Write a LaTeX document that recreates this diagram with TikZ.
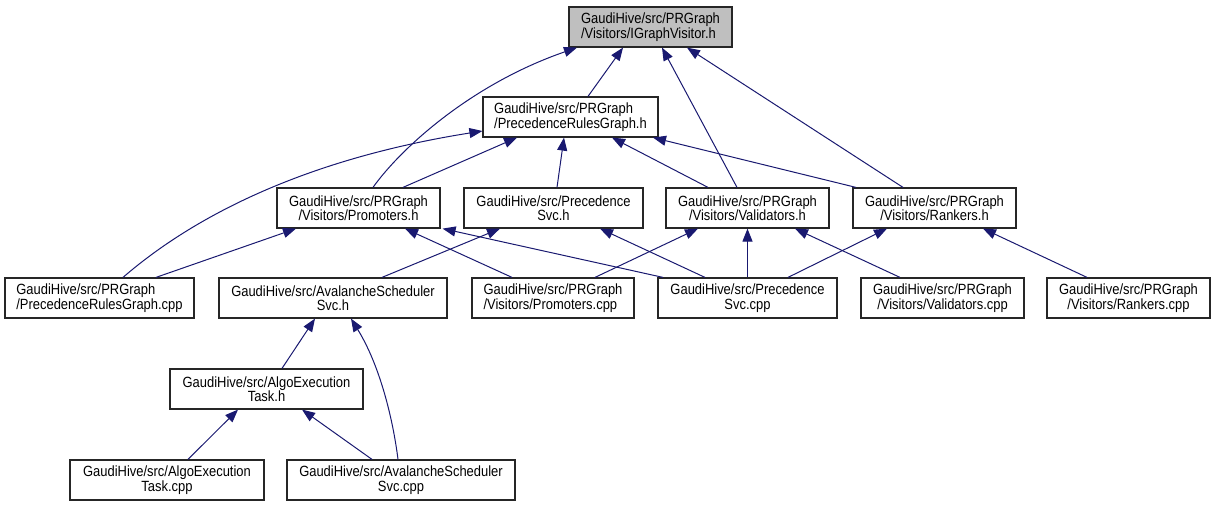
\documentclass[tikz,border=0pt]{standalone}
\usepackage{fontspec}
\setmainfont{Liberation Sans}[FakeStretch=0.875]
\usepackage{xcolor}
\usepackage{tikz}
\usetikzlibrary{positioning,calc,arrows.meta}

\definecolor{incblue}{RGB}{25,25,112}
\definecolor{curgray}{RGB}{191,191,191}

\begin{document}
\begin{tikzpicture}[x=0.5pt,y=-0.5pt,
    filebox/.style={draw=black!85, line width=0.6pt, inner sep=0pt, minimum height=20pt,
        minimum width=#1, font=\fontsize{7.4}{7.2}\selectfont},
    incl/.style={draw=incblue, line width=0.5pt, -{Triangle[length=6.5pt,width=5pt]}}]
    \useasboundingbox (0,0) rectangle (1216,507);

    % Header itself
    \node[filebox=81.5pt, fill=curgray, align=left] (igv) at (650.5,27) {GaudiHive/src/PRGraph\\/Visitors/IGraphVisitor.h};
    \node[filebox=87.5pt, align=left] (prg) at (570.5,117) {GaudiHive/src/PRGraph\\/PrecedenceRulesGraph.h};

    % Headers that include it
    \node[filebox=81.5pt, align=center] (prom) at (358.5,208) {GaudiHive/src/PRGraph\\/Visitors/Promoters.h};
    \node[filebox=89.5pt, align=center] (psvc) at (553.5,208) {GaudiHive/src/Precedence\\Svc.h};
    \node[filebox=81.5pt, align=center] (vali) at (747.5,208) {GaudiHive/src/PRGraph\\/Visitors/Validators.h};
    \node[filebox=81.5pt, align=center] (rank) at (934.5,208) {GaudiHive/src/PRGraph\\/Visitors/Rankers.h};

    % Sources
    \node[filebox=94.5pt, align=left] (prgcpp) at (99.5,298) {GaudiHive/src/PRGraph\\/PrecedenceRulesGraph.cpp};
    \node[filebox=114pt, align=center] (avalh) at (333,298) {GaudiHive/src/AvalancheScheduler\\Svc.h};
    \node[filebox=81pt, align=left] (promcpp) at (553,298) {GaudiHive/src/PRGraph\\/Visitors/Promoters.cpp};
    \node[filebox=89.5pt, align=center] (psvccpp) at (747.5,298) {GaudiHive/src/Precedence\\Svc.cpp};
    \node[filebox=81.5pt, align=center] (valicpp) at (942.5,298) {GaudiHive/src/PRGraph\\/Visitors/Validators.cpp};
    \node[filebox=81.5pt, align=center] (rankcpp) at (1128.5,298) {GaudiHive/src/PRGraph\\/Visitors/Rankers.cpp};

    \node[filebox=96.5pt, align=center] (algoh) at (266.5,389) {GaudiHive/src/AlgoExecution\\Task.h};
    \node[filebox=97pt, align=center] (algocpp) at (167,480) {GaudiHive/src/AlgoExecution\\Task.cpp};
    \node[filebox=114pt, align=center] (avalcpp) at (401,480) {GaudiHive/src/AvalancheScheduler\\Svc.cpp};

    % Include edges into IGraphVisitor.h
    \draw[incl] ($(prg.north)+(17.5,0)$) -- ($(igv.south)+(-27.5,0)$);
    \draw[incl] ($(prom.north)+(14.5,0)$) .. controls +(27,-38) and +(-107,37) .. ($(igv.south)+(-73.5,0)$);
    \draw[incl] ($(vali.north)+(-10.5,0)$) -- ($(igv.south)+(11.5,0)$);
    \draw[incl] ($(rank.north)+(-31.5,0)$) -- ($(igv.south)+(36.5,0)$);

    % Into PrecedenceRulesGraph.h
    \draw[incl] ($(prgcpp.north)+(23.5,0)$) .. controls +(67,-58) and +(-183,29) .. ($(prg.west)+(0,14)$);
    \draw[incl] ($(prom.north)+(44.5,0)$) -- ($(prg.south)+(-53.5,0)$);
    \draw[incl] ($(psvc.north)+(3.5,0)$) -- ($(prg.south)+(-6.5,0)$);
    \draw[incl] ($(vali.north)+(-39.5,0)$) -- ($(prg.south)+(41.5,0)$);
    \draw[incl] ($(rank.north)+(-78.5,0)$) -- ($(prg.south)+(82.5,0)$);

    % Into the visitor headers
    \draw[incl] ($(prgcpp.north)+(56.5,0)$) -- ($(prom.south)+(-62.5,0)$);
    \draw[incl] ($(promcpp.north)+(-41,0)$) -- ($(prom.south)+(46.5,0)$);
    \draw[incl] ($(psvccpp.north)+(-84.5,0)$) -- ($(prom.south east)+(2,0)$);
    \draw[incl] ($(avalh.north)+(49,0)$) -- ($(psvc.south)+(-53.5,0)$);
    \draw[incl] ($(psvccpp.north)+(-42.5,0)$) -- ($(psvc.south)+(46.5,0)$);
    \draw[incl] ($(promcpp.north)+(42,0)$) -- ($(vali.south)+(-49.5,0)$);
    \draw[incl] (psvccpp.north) -- (vali.south);
    \draw[incl] ($(valicpp.north)+(-42.5,0)$) -- ($(vali.south)+(47.5,0)$);
    \draw[incl] ($(psvccpp.north)+(40.5,0)$) -- ($(rank.south)+(-47.5,0)$);
    \draw[incl] ($(rankcpp.north)+(-41.5,0)$) -- ($(rank.south)+(48.5,0)$);

    % Scheduler side
    \draw[incl] ($(algoh.north)+(15.5,0)$) -- ($(avalh.south)+(-18,0)$);
    \draw[incl] ($(avalcpp.north)+(-3,0)$) .. controls +(-5,-40) and +(29,47) .. ($(avalh.south)+(18,0)$);
    \draw[incl] ($(algocpp.north)+(21,0)$) -- ($(algoh.south)+(-28.5,0)$);
    \draw[incl] ($(avalcpp.north)+(-29,0)$) -- ($(algoh.south)+(35.5,0)$);
\end{tikzpicture}
\end{document}
